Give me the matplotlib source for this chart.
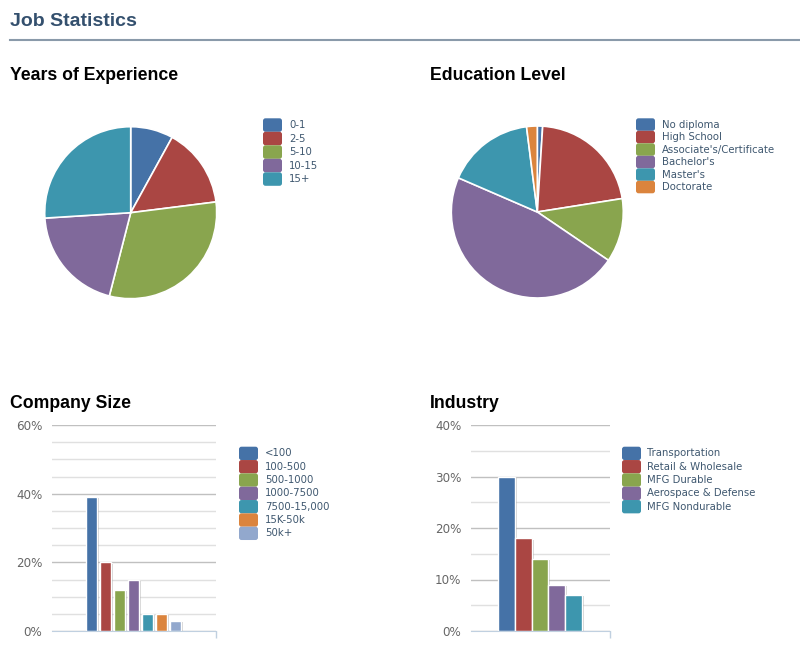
import matplotlib.pyplot as plt
import matplotlib.patheffects as pe
from matplotlib.patches import FancyBboxPatch
from matplotlib.lines import Line2D
from matplotlib.ticker import MultipleLocator, FuncFormatter

# data
exp_labels = ['0-1', '2-5', '5-10', '10-15', '15+']
exp_values = [8, 15, 31, 20, 26]

edu_labels = ['No diploma', 'High School', "Associate's/Certificate", "Bachelor's", "Master's", 'Doctorate']
edu_values = [1, 21.5, 12, 47, 16.5, 2]

size_labels = ['<100', '100-500', '500-1000', '1000-7500', '7500-15,000', '15K-50k', '50k+']
size_values = [39, 20, 12, 15, 5, 5, 3]

ind_labels = ['Transportation', 'Retail & Wholesale', 'MFG Durable', 'Aerospace & Defense', 'MFG Nondurable']
ind_values = [30, 18, 14, 9, 7]

colors = ['#4572A7', '#AA4643', '#89A54E', '#80699B', '#3D96AE', '#DB843D', '#92A8CD']

W, H = 800, 651
fig = plt.figure(figsize=(W / 100, H / 100), dpi=100)
pix = fig.dpi_scale_trans


def px(x, y):
    # pixel position (top-left origin) -> inches for dpi_scale_trans
    return x / 100, (H - y) / 100


def add_axes_px(left, top, right, bottom):
    return fig.add_axes([left / W, (H - bottom) / H, (right - left) / W, (bottom - top) / H])


def legend_px(x, y_top, step, labels, cols, text_x):
    for i, (lab, c) in enumerate(zip(labels, cols)):
        y = y_top + i * step
        bx, by = px(x, y + step)
        box = FancyBboxPatch((bx, by), 0.19, step / 100,
                             boxstyle='round,pad=0,rounding_size=0.025',
                             facecolor=c, edgecolor='none', transform=pix)
        fig.add_artist(box)
        tx, ty = px(text_x, y + step / 2)
        fig.text(tx, ty, lab, transform=pix, fontsize=7.3, color='#3E576F',
                 va='center', ha='left', family='DejaVu Sans')


# header
fig.text(*px(10, 26), 'Job Statistics', transform=pix, fontsize=14, fontweight='bold',
         color='#34506E', family='Liberation Sans', va='baseline')
fig.add_artist(Line2D([10 / 100, 800 / 100], [(H - 40) / 100] * 2, transform=pix,
                      color='#8A9AAA', lw=1.5))

# section titles
for (x, y, t) in [(10, 80, 'Years of Experience'), (430, 80, 'Education Level'),
                  (10, 408, 'Company Size'), (430, 408, 'Industry')]:
    fig.text(*px(x, y), t, transform=pix, fontsize=12.7, fontweight='bold',
             color='black', family='Liberation Sans', va='baseline')


# pies
def pie_at(cx, cy, r, values, cols):
    m = 1.1
    ax = add_axes_px(cx - r * m, cy - r * m, cx + r * m, cy + r * m)
    ax.pie(values, colors=cols, startangle=90, counterclock=False,
           wedgeprops=dict(edgecolor='white', linewidth=1.2))
    ax.set_xlim(-m, m)
    ax.set_ylim(-m, m)
    ax.set_aspect('equal')
    ax.axis('off')


pie_at(130.7, 212.7, 86, exp_values, colors[:5])
legend_px(263, 118.3, 13.5, exp_labels, colors[:5], 289)

pie_at(537.3, 212, 86, edu_values, colors[:6])
legend_px(636, 118.3, 12.5, edu_labels, colors[:6], 662)


# bar charts
def bar_chart(left, right, values, cols, width, xlim, ymax, minor, major, label_pad):
    ax = add_axes_px(left, 425, right, 631)
    xs = list(range(len(values)))
    bars = ax.bar(xs, values, width=width, color=cols, edgecolor='white', linewidth=1, zorder=3)
    for b in bars:
        b.set_path_effects([pe.withSimplePatchShadow(offset=(1.5, -1), shadow_rgbFace='#808080', alpha=0.35)])
    ax.set_xlim(*xlim)
    ax.set_ylim(0, ymax)
    ax.yaxis.set_major_locator(MultipleLocator(major))
    ax.yaxis.set_minor_locator(MultipleLocator(minor))
    ax.yaxis.set_major_formatter(FuncFormatter(lambda v, p: f'{int(v)}%'))
    ax.grid(axis='y', which='major', color='#C0C0C0', lw=1, zorder=0)
    ax.grid(axis='y', which='minor', color='#E0E0E0', lw=1, zorder=0)
    ax.tick_params(axis='y', which='both', length=0, pad=label_pad, labelsize=8.6, labelcolor='#666666')
    ax.set_xticks([xlim[1]])
    ax.set_xticklabels([])
    ax.tick_params(axis='x', length=5, color='#C0D0E0', width=1)
    for s in ['top', 'right', 'left']:
        ax.spines[s].set_visible(False)
    ax.spines['bottom'].set_color('#C0D0E0')
    ax.spines['bottom'].set_zorder(4)
    ax.set_facecolor('none')
    return ax


bar_chart(52, 216, size_values, colors[:7], 0.72, (-2.82, 8.89), 60, 5, 20, 7)
legend_px(239, 446.7, 13.33, size_labels, colors[:7], 265)

bar_chart(471, 610, ind_values, colors[:5], 1.0, (-2.12, 6.18), 40, 5, 10, 7)
legend_px(622, 446.7, 13.33, ind_labels, colors[:5], 647)

fig.savefig('out.png', dpi=100)
